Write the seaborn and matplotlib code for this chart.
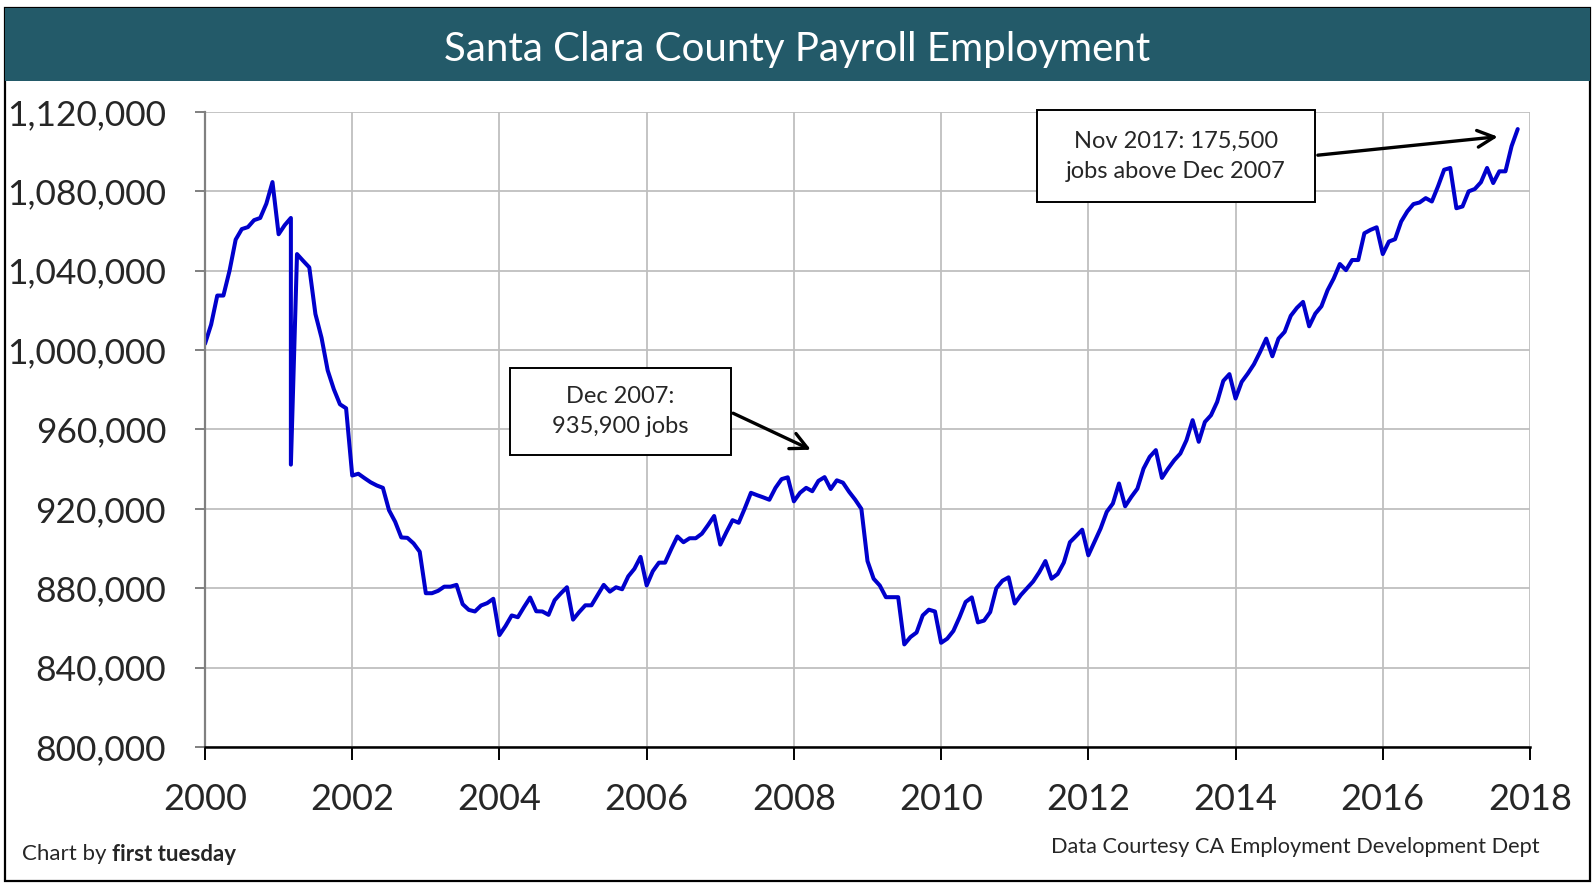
import numpy as np
import pandas as pd
import matplotlib
matplotlib.use("Agg")
import matplotlib.pyplot as plt
import seaborn as sns
from matplotlib.patches import Rectangle
from matplotlib.ticker import FuncFormatter

# Santa Clara County payroll jobs, thousands (Jan 2000 - Nov 2017)
# the source series lists March 2001 twice (1066.6 and 942.3)
jobs_2000 = [1003.2, 1012.9, 1027.5, 1027.5, 1040.0, 1055.7, 1061.0, 1062.0, 1065.5, 1066.6, 1073.8, 1084.7]
jobs_2001 = [1058.4, 1063.0, 1066.6, 942.3, 1048.4, 1045.0, 1041.7, 1018.2, 1006.2, 989.8, 980.3, 972.7, 970.7]
jobs_2002 = [936.8, 937.7, 935.5, 933.4, 931.8, 930.6, 919.3, 913.5, 905.6, 905.4, 902.6, 898.4]
jobs_2003 = [877.5, 877.5, 878.7, 880.8, 880.8, 881.7, 872.0, 869.1, 868.3, 871.3, 872.5, 874.7]
jobs_2004 = [856.4, 861.0, 866.3, 865.4, 870.5, 875.3, 868.4, 868.3, 866.6, 874.0, 877.4, 880.5]
jobs_2005 = [864.2, 868.0, 871.4, 871.4, 876.6, 881.7, 878.3, 880.5, 879.5, 886.0, 889.8, 895.8]
jobs_2006 = [881.4, 888.6, 892.9, 892.9, 899.7, 906.1, 903.2, 905.2, 905.2, 907.5, 911.8, 916.4]
jobs_2007 = [902.0, 908.3, 914.3, 913.0, 920.3, 928.1, 926.9, 925.8, 924.6, 930.6, 935.0, 935.9]
jobs_2008 = [923.8, 928.1, 930.6, 928.9, 934.1, 936.0, 930.0, 934.4, 933.2, 928.6, 924.6, 920.0]
jobs_2009 = [893.7, 884.8, 881.4, 875.5, 875.5, 875.5, 851.7, 855.4, 857.7, 866.3, 869.2, 868.3]
jobs_2010 = [852.5, 854.6, 858.5, 865.4, 873.1, 875.4, 862.8, 863.7, 868.0, 880.0, 883.8, 885.5]
jobs_2011 = [872.3, 876.6, 880.0, 883.4, 888.1, 893.7, 884.8, 887.2, 892.9, 903.2, 906.3, 909.5]
jobs_2012 = [896.6, 903.4, 910.1, 918.5, 922.7, 932.8, 921.3, 926.0, 930.2, 940.3, 946.2, 949.6]
jobs_2013 = [935.6, 940.3, 944.5, 947.9, 954.6, 964.7, 953.8, 963.8, 967.2, 973.9, 984.5, 987.9]
jobs_2014 = [975.6, 984.0, 988.2, 992.9, 999.1, 1005.8, 996.9, 1005.8, 1009.2, 1017.3, 1021.3, 1024.3]
jobs_2015 = [1012.0, 1018.4, 1022.1, 1030.2, 1036.1, 1043.4, 1040.3, 1045.4, 1045.4, 1058.9, 1060.6, 1061.9]
jobs_2016 = [1048.4, 1054.7, 1055.9, 1064.8, 1069.9, 1073.6, 1074.4, 1076.6, 1074.9, 1082.5, 1090.9, 1091.8]
jobs_2017 = [1071.5, 1072.4, 1080.0, 1081.2, 1084.6, 1091.8, 1084.2, 1090.1, 1090.1, 1102.8, 1111.4]

year_ticks = list(range(2000, 2019, 2))
job_ticks = list(range(800000, 1120001, 40000))

title = "Santa Clara County Payroll Employment"
note_2007 = "Dec 2007:\n935,900 jobs"
note_2017 = "Nov 2017: 175,500\njobs above Dec 2007"
source = "Data Courtesy CA Employment Development Dept"

# build the frame
months = pd.date_range("2000-01-01", "2017-11-01", freq="MS")
months = months.insert(15, pd.Timestamp("2001-03-01"))
jobs = (jobs_2000 + jobs_2001 + jobs_2002 + jobs_2003 + jobs_2004 + jobs_2005 +
        jobs_2006 + jobs_2007 + jobs_2008 + jobs_2009 + jobs_2010 + jobs_2011 +
        jobs_2012 + jobs_2013 + jobs_2014 + jobs_2015 + jobs_2016 + jobs_2017)
df = pd.DataFrame({
    "year": months.year + (months.month - 1) / 12,
    "jobs": np.array(jobs) * 1000,
})

sns.set_style("white")
plt.rcParams["font.family"] = ["Lato", "DejaVu Sans"]

W, H = 1596, 888
fig = plt.figure(figsize=(W / 100, H / 100), dpi=100)

# outer frame and title band
fig.add_artist(Rectangle((5 / W, 1 - 881 / H), 1585 / W, 873 / H, transform=fig.transFigure,
                         fill=False, ec="black", lw=1.6))
fig.add_artist(Rectangle((5 / W, 1 - 81 / H), 1585 / W, 73 / H, transform=fig.transFigure,
                         fc="#235A69", ec="none"))
fig.text(797 / W, 1 - 49 / H, title, color="white", fontsize=29, ha="center", va="center")

ax = fig.add_axes([205 / W, 1 - 747 / H, 1325 / W, 635 / H])
sns.lineplot(data=df, x="year", y="jobs", estimator=None, sort=False,
             color="#0000CC", lw=2.9, ax=ax)

ax.set_xlim(2000, 2018)
ax.set_ylim(800000, 1120000)
ax.set_xticks(year_ticks)
ax.set_yticks(job_ticks)
ax.xaxis.set_major_formatter(FuncFormatter(lambda v, p: f"{int(v)}"))
ax.yaxis.set_major_formatter(FuncFormatter(lambda v, p: f"{v:,.0f}"))
ax.set_xlabel("")
ax.set_ylabel("")
ax.grid(True, color="#BFBFBF", lw=1.3)
for s in ["top", "right"]:
    ax.spines[s].set_visible(False)
ax.spines["left"].set_color("#808080")
ax.spines["left"].set_linewidth(1.6)
ax.spines["bottom"].set_color("black")
ax.spines["bottom"].set_linewidth(1.8)
ax.tick_params(axis="y", length=7, width=1.4, color="#808080", pad=21, labelsize=25.5, left=True)
ax.tick_params(axis="x", length=9, width=1.4, color="black", pad=17, labelsize=26, bottom=True)

# callouts
ax.add_patch(Rectangle((2004.15, 947000), 2.99, 44200, fc="white", ec="black", lw=1.4, zorder=5))
ax.text(2005.645, 969100, note_2007, ha="center", va="center", fontsize=17,
        linespacing=1.55, zorder=6)
ax.annotate("", xy=(2008.265, 949200), xytext=(2007.14, 968800),
            arrowprops=dict(arrowstyle="->", lw=2.4, color="black", mutation_scale=30), zorder=6)

ax.add_patch(Rectangle((2011.30, 1074500), 3.78, 46300, fc="white", ec="black", lw=1.4,
                       zorder=5, clip_on=False))
ax.text(2013.19, 1097600, note_2017, ha="center", va="center", fontsize=17,
        linespacing=1.55, zorder=6)
ax.annotate("", xy=(2017.60, 1107700), xytext=(2015.08, 1098100),
            arrowprops=dict(arrowstyle="->", lw=2.4, color="black", mutation_scale=30), zorder=6)

# footer
t1 = fig.text(22 / W, 1 - 854 / H, "Chart by ", fontsize=16, ha="left", va="center")
fig.canvas.draw()
bb = t1.get_window_extent(fig.canvas.get_renderer())
fig.text(bb.x1 / W, 1 - 854 / H, "first tuesday", fontsize=16, fontweight="bold",
         ha="left", va="center")
fig.text(1540 / W, 1 - 847 / H, source, fontsize=15.7, ha="right", va="center")

fig.savefig("out.png", dpi=100)
